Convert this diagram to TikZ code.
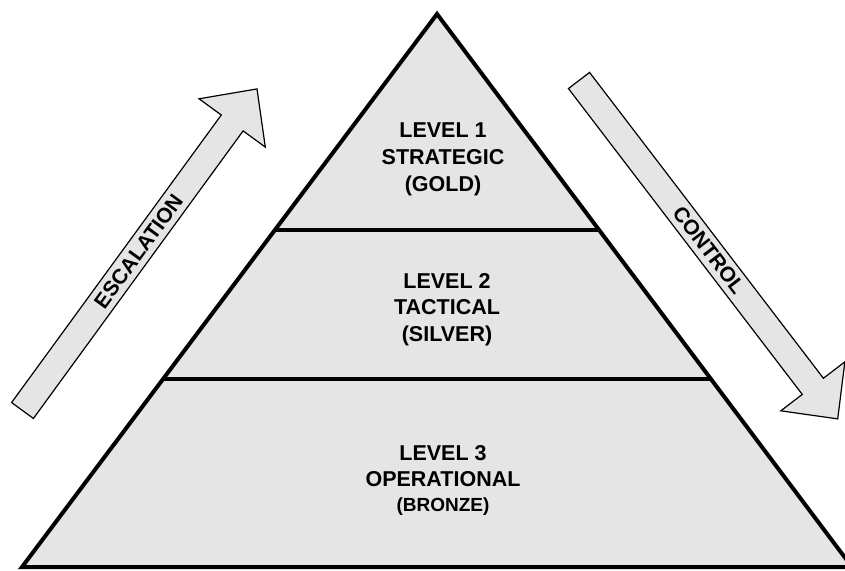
\documentclass[tikz,border=0pt]{standalone}
\usepackage{fontspec}
\setmainfont{Liberation Sans}
\usepackage{tikz}
\usetikzlibrary{calc}
\definecolor{pyrgray}{RGB}{229,229,229}

\begin{document}
\begin{tikzpicture}[x=1pt,y=-1pt,line join=miter]
			\tikzstyle{level}=[align=center,font=\bfseries\fontsize{21.5}{26.7}\selectfont,inner sep=0pt]
			\tikzstyle{arrowtext}=[font=\bfseries\fontsize{21}{25}\selectfont,inner sep=0pt]
			\tikzstyle{bigarrow}=[draw=black,fill=pyrgray,line width=1.2pt]
			\tikzstyle{divider}=[draw=black,line width=4pt]
			
			\useasboundingbox (0,0) rectangle (845,570);
			
			\coordinate (apex)  at (437,14);
			
			\coordinate (left)  at (22,567);
			
			\coordinate (right) at (852,567);
			
			\coordinate (L1) at ($(apex)!0.3906!(left)$);
			
			\coordinate (R1) at ($(apex)!0.3906!(right)$);
			
			\coordinate (L2) at ($(apex)!0.66!(left)$);
			
			\coordinate (R2) at ($(apex)!0.66!(right)$);
			
			\fill[pyrgray] (apex) -- (left) -- (right) -- cycle;
			
			\path
			
			(L1) edge[divider] (R1)
			
			(L2) edge[divider] (R2);
			
			\draw[line width=4pt] (apex) -- (left) -- (right) -- cycle;
			
			\node[level] (gold)   at (443,159.5) {LEVEL 1\\STRATEGIC\\(GOLD)};
			
			\node[level] (silver) at (447,309.5) {LEVEL 2\\TACTICAL\\(SILVER)};
			
			\node[level] (bronze) at (443,480.5) {LEVEL 3\\OPERATIONAL\\[-1.5pt]{\fontsize{19}{23}\selectfont(BRONZE)}};
			
			% escalation arrow
			\begin{scope}[shift={(22.5,410.5)},rotate=53.9]
			\draw[bigarrow] (0,-13.5) -- (355.9,-13.5) -- (355.9,-41) -- (398,0) -- (355.9,41) -- (355.9,13.5) -- (0,13.5) -- cycle;
			\node[arrowtext,rotate=53.9] (esc) at (197,0) {ESCALATION};
			\end{scope}
			
			% control arrow
			\begin{scope}[shift={(579,80.5)},rotate=-52.6]
			\draw[bigarrow] (0,-13.3) -- (385,-13.3) -- (385,-40.3) -- (426,0) -- (385,40.3) -- (385,13.3) -- (0,13.3) -- cycle;
			\node[arrowtext,rotate=-52.6] (ctrl) at (214,0) {CONTROL};
			\end{scope}
\end{tikzpicture}
\end{document}
